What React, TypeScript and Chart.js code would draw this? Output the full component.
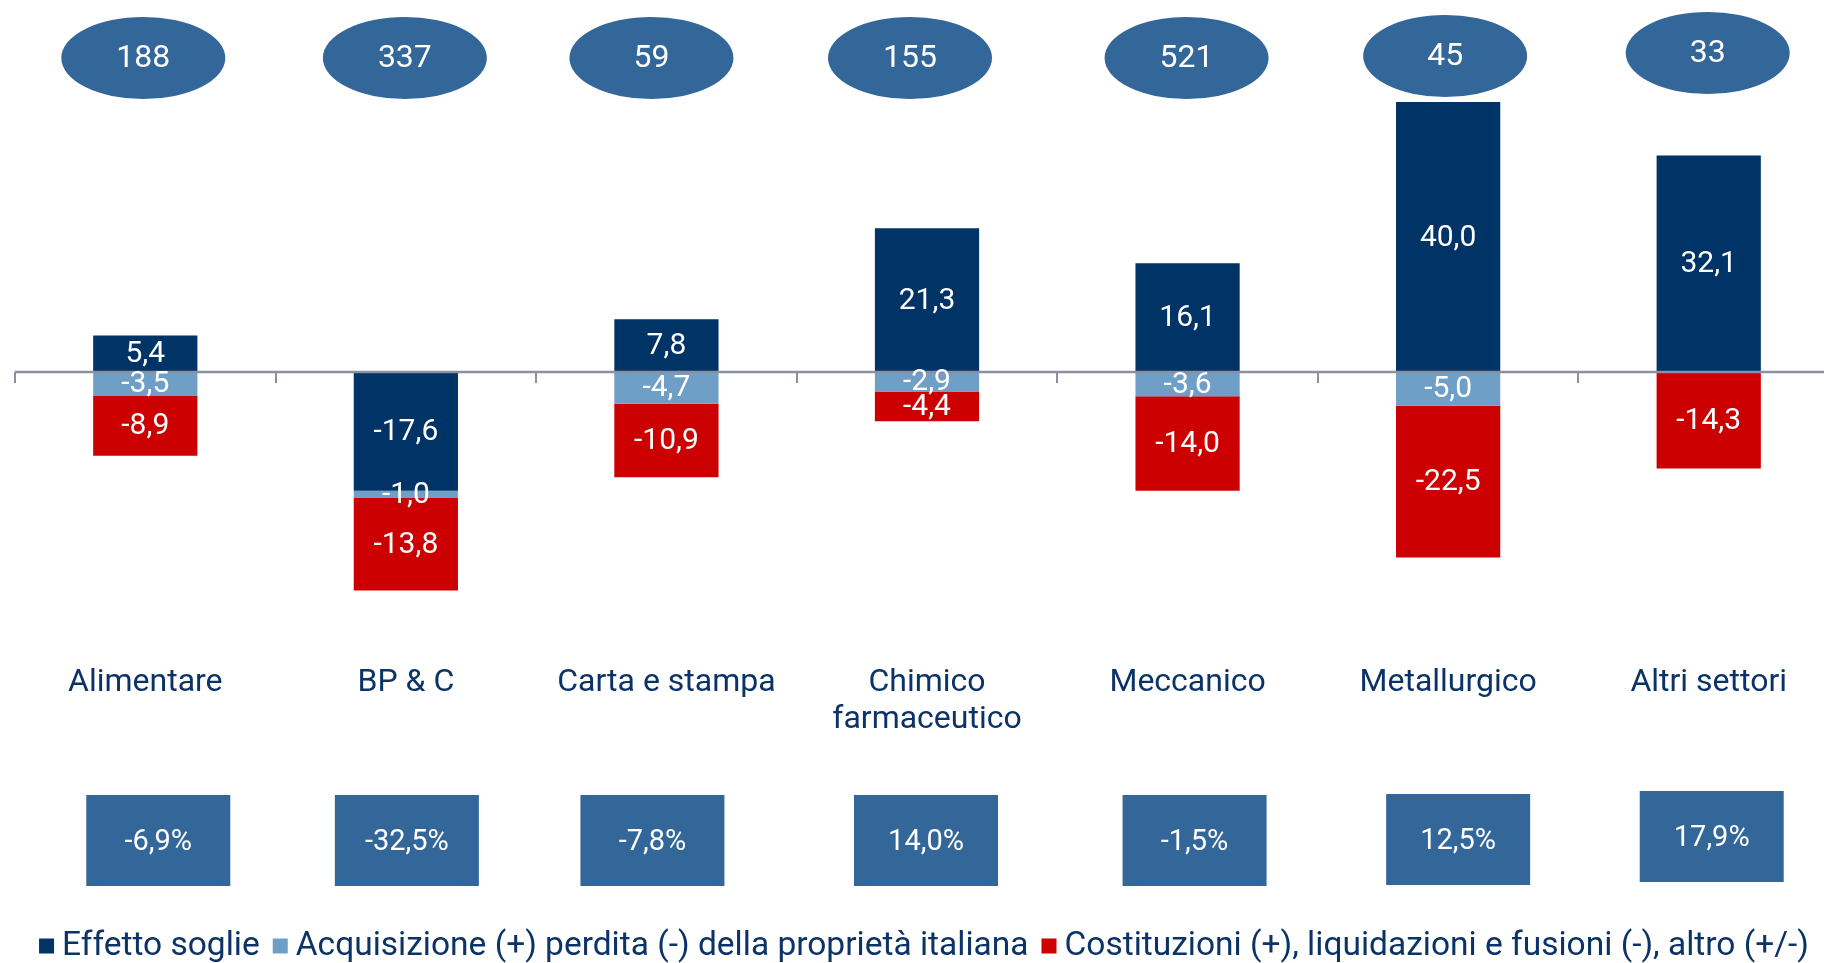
import { useEffect, useRef } from "react";
import { Chart, registerables } from "chart.js";

Chart.register(...registerables);

// ---- data ----
const categories: string[][] = [
  ["Alimentare"],
  ["BP & C"],
  ["Carta e stampa"],
  ["Chimico", "farmaceutico"],
  ["Meccanico"],
  ["Metallurgico"],
  ["Altri settori"],
];
const seriesLabels = [
  "Effetto soglie",
  "Acquisizione (+) perdita (-) della proprietà italiana",
  "Costituzioni (+), liquidazioni e fusioni (-), altro (+/-)",
];
const effettoSoglie = [5.4, -17.6, 7.8, 21.3, 16.1, 40.0, 32.1];
const acquisizione: (number | null)[] = [-3.5, -1.0, -4.7, -2.9, -3.6, -5.0, null];
const costituzioni = [-8.9, -13.8, -10.9, -4.4, -14.0, -22.5, -14.3];
const numeroImprese = [188, 337, 59, 155, 521, 45, 33];
const variazionePct = [-6.9, -32.5, -7.8, 14.0, -1.5, 12.5, 17.9];

// ---- layout (px offsets of the annotation shapes from the category centre) ----
const ellipseDx = [-2, -1, -15, -17, -1, -3, -1];
const ellipseCy = [58, 58, 58, 58, 58, 56, 53];
const boxDx = [13, 1, -14, -1, 7, 10, 3];
const boxTop = [795, 795, 795, 795, 795, 794, 791];

// ---- style ----
const FONT = 'Roboto, "Liberation Sans", Arial, sans-serif';
const NAVY = "#003366";
const LIGHT = "#6f9fc6";
const RED = "#cc0000";
const BADGE = "#336699";
const TEXT = "#0b3366";
const AXIS = "#8a8fa2";
const COLORS = [NAVY, LIGHT, RED];

const W = 1839;
const H = 963;
const PAD_LEFT = 15;

const fmt = (v: number) => v.toFixed(1).replace(".", ",");

const overlay = {
  id: "overlay",
  afterDatasetsDraw(chart: any) {
    const ctx: CanvasRenderingContext2D = chart.ctx;
    const xs = chart.scales.x;
    const ys = chart.scales.y;
    const area = chart.chartArea;
    const n = categories.length;
    const step = (area.right - area.left) / n;
    const y0 = ys.getPixelForValue(0);
    ctx.save();

    // axis line + ticks
    ctx.strokeStyle = AXIS;
    ctx.lineWidth = 2.5;
    ctx.beginPath();
    ctx.moveTo(area.left, y0);
    ctx.lineTo(area.right, y0);
    ctx.stroke();
    ctx.lineWidth = 2;
    for (let i = 0; i <= n; i++) {
      const tx = Math.round(xs.getPixelForValue(0) - step / 2 + i * step);
      ctx.beginPath();
      ctx.moveTo(tx, y0);
      ctx.lineTo(tx, y0 + 11);
      ctx.stroke();
    }

    // bar value labels
    ctx.fillStyle = "#ffffff";
    ctx.font = `30px ${FONT}`;
    ctx.textAlign = "center";
    ctx.textBaseline = "middle";
    chart.data.datasets.forEach((ds: any, di: number) => {
      const meta = chart.getDatasetMeta(di);
      meta.data.forEach((el: any, i: number) => {
        const v = ds.data[i];
        if (v === null || v === undefined) return;
        const cy = (el.y + el.base) / 2;
        ctx.fillText(fmt(v), el.x, cy + 1);
      });
    });

    // ellipses with counts
    for (let i = 0; i < n; i++) {
      const cx = xs.getPixelForValue(i) + ellipseDx[i];
      const cy = ellipseCy[i];
      ctx.fillStyle = BADGE;
      ctx.beginPath();
      ctx.ellipse(cx, cy, 82, 41, 0, 0, Math.PI * 2);
      ctx.fill();
      ctx.fillStyle = "#ffffff";
      ctx.font = `32px ${FONT}`;
      ctx.fillText(String(numeroImprese[i]), cx, cy + 1);
    }

    // category labels
    ctx.fillStyle = TEXT;
    ctx.font = `32px ${FONT}`;
    for (let i = 0; i < n; i++) {
      const cx = xs.getPixelForValue(i);
      categories[i].forEach((line, li) => {
        ctx.fillText(line, cx, 683 + li * 37);
      });
    }

    // percentage boxes
    for (let i = 0; i < n; i++) {
      const cx = xs.getPixelForValue(i) + boxDx[i];
      const top = boxTop[i];
      ctx.fillStyle = BADGE;
      ctx.fillRect(cx - 72, top, 144, 91);
      ctx.fillStyle = "#ffffff";
      ctx.font = `29px ${FONT}`;
      ctx.fillText(fmt(variazionePct[i]) + "%", cx, top + 48);
    }

    // legend
    ctx.font = `33.5px ${FONT}`;
    const box = 15;
    const gapBoxText = 8;
    const gapItems = 13;
    const widths = seriesLabels.map((s) => ctx.measureText(s).width);
    const total =
      widths.reduce((a, b) => a + b, 0) +
      seriesLabels.length * (box + gapBoxText) +
      (seriesLabels.length - 1) * gapItems;
    let lx = 924 - total / 2;
    const ly = 946;
    ctx.textAlign = "left";
    seriesLabels.forEach((s, i) => {
      ctx.fillStyle = COLORS[i];
      ctx.fillRect(lx, ly - box / 2, box, box);
      lx += box + gapBoxText;
      ctx.fillStyle = TEXT;
      ctx.fillText(s, lx, ly + 1);
      lx += widths[i] + gapItems;
    });

    ctx.restore();
  },
};

export default function App() {
  const ref = useRef<HTMLCanvasElement | null>(null);
  useEffect(() => {
    if (!ref.current) return;
    const pxPerUnit = 6.747;
    const zeroY = 372;
    const chart = new Chart(ref.current, {
      type: "bar",
      data: {
        labels: categories.map((c) => c.join(" ")),
        datasets: [
          { label: seriesLabels[0], data: effettoSoglie, backgroundColor: NAVY },
          { label: seriesLabels[1], data: acquisizione, backgroundColor: LIGHT },
          { label: seriesLabels[2], data: costituzioni, backgroundColor: RED },
        ],
      },
      options: {
        responsive: false,
        animation: false,
        devicePixelRatio: 1,
        layout: { padding: { left: PAD_LEFT, right: 0, top: 0, bottom: 0 } },
        datasets: { bar: { barPercentage: 0.4, categoryPercentage: 1 } },
        scales: {
          x: { stacked: true, display: false },
          y: {
            stacked: true,
            display: false,
            min: -(H - zeroY) / pxPerUnit,
            max: zeroY / pxPerUnit,
          },
        },
        plugins: { legend: { display: false }, tooltip: { enabled: false } },
      },
      plugins: [overlay],
    });
    return () => chart.destroy();
  }, []);
  return (
    <div
      style={{
        position: "fixed",
        left: 0,
        top: 0,
        width: 1824,
        height: H,
        overflow: "hidden",
        background: "#ffffff",
      }}
    >
      <canvas ref={ref} width={W} height={H} style={{ display: "block" }} />
    </div>
  );
}
